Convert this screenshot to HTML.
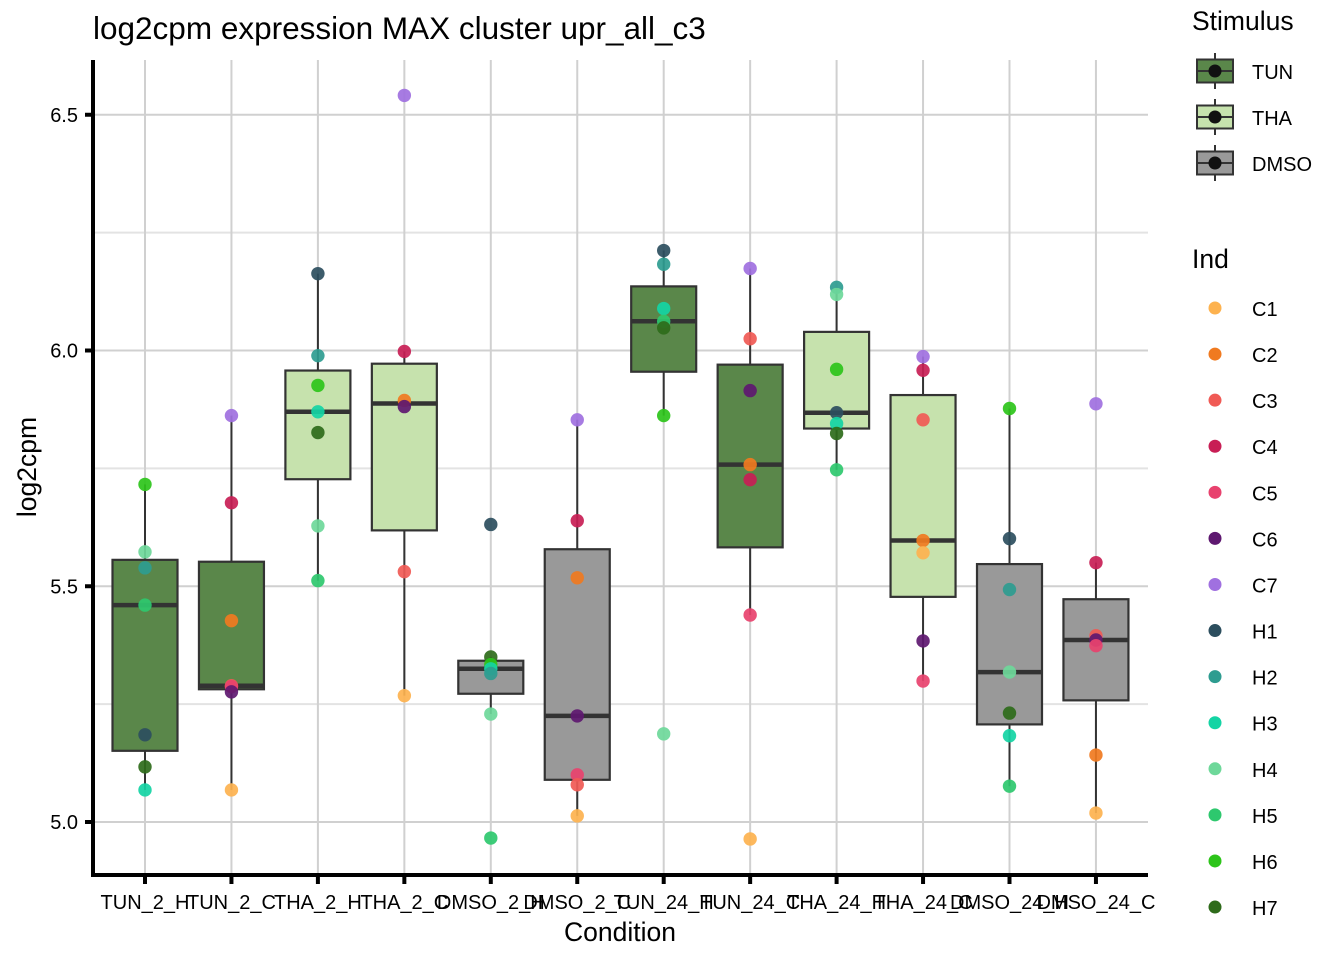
<!DOCTYPE html>
<html><head><meta charset="utf-8">
<style>
body{margin:0;background:#fff;}
svg{display:block;font-family:"Liberation Sans",Arial,sans-serif;}
</style></head>
<body>
<svg id="chart" width="1344" height="960" xmlns="http://www.w3.org/2000/svg">
<g id="grid"></g>
<g id="boxes"></g>
<g id="pts"></g>
<g id="axes"></g>
<g id="legend"></g>
<text x="93" y="39" font-size="31.5" fill="#000">log2cpm expression MAX cluster upr_all_c3</text>
<text x="620" y="941" font-size="26.5" text-anchor="middle" fill="#000">Condition</text>
<text transform="translate(36,467) rotate(-90)" font-size="26.5" text-anchor="middle" fill="#000">log2cpm</text>
</svg>
<script>
const categories=["TUN_2_H","TUN_2_C","THA_2_H","THA_2_C","DMSO_2_H","DMSO_2_C","TUN_24_H","TUN_24_C","THA_24_H","THA_24_C","DMSO_24_H","DMSO_24_C"];
const stimulusOf=["TUN","TUN","THA","THA","DMSO","DMSO","TUN","TUN","THA","THA","DMSO","DMSO"];
const indOf=[
 ["H6","H4","H2","H5","H1","H7","H3"],
 ["C7","C4","C2","C3","C5","C6","C1"],
 ["H1","H2","H6","H3","H7","H4","H5"],
 ["C7","C4","C2","C6","C3","C1"],
 ["H1","H7","H6","H3","H2","H4","H5"],
 ["C7","C4","C2","C6","C5","C3","C1"],
 ["H1","H2","H3","H5","H7","H6","H4"],
 ["C7","C3","C6","C2","C4","C5","C1"],
 ["H2","H4","H6","H1","H3","H7","H5"],
 ["C7","C4","C3","C2","C1","C6","C5"],
 ["H6","H1","H2","H4","H7","H3","H5"],
 ["C7","C4","C3","C6","C5","C2","C1"]];
const values=[
 [5.716,5.573,5.539,5.460,5.185,5.117,5.068],
 [5.862,5.677,5.427,5.289,5.287,5.276,5.068],
 [6.163,5.989,5.926,5.870,5.826,5.628,5.512],
 [6.541,5.998,5.894,5.881,5.531,5.268],
 [5.631,5.350,5.334,5.325,5.315,5.229,4.966],
 [5.853,5.639,5.518,5.225,5.100,5.079,5.013],
 [6.212,6.183,6.089,6.062,6.048,5.862,5.187],
 [6.174,6.025,5.915,5.758,5.726,5.439,4.964],
 [6.134,6.119,5.960,5.868,5.845,5.824,5.747],
 [5.987,5.958,5.853,5.597,5.571,5.384,5.299],
 [5.877,5.601,5.493,5.318,5.231,5.183,5.076],
 [5.887,5.550,5.395,5.386,5.374,5.142,5.019]];
const yTicks=[5.0,5.5,6.0,6.5];
const yMinor=[5.25,5.75,6.25];
const stimLevels=["TUN","THA","DMSO"];
const indLevels=["C1","C2","C3","C4","C5","C6","C7","H1","H2","H3","H4","H5","H6","H7"];
const stimColor={TUN:"#5A874A",THA:"#C6E2AD",DMSO:"#999999"};
const indColor={C1:"#FDB24F",C2:"#F07A20",C3:"#F05A55",C4:"#C81E55",C5:"#E8426E",C6:"#5E1870",C7:"#A070E0",H1:"#2C4E5E",H2:"#2E9C90",H3:"#14D4A4",H4:"#6ED89A",H5:"#2EC86E",H6:"#2DC41A",H7:"#2E6B1A"};

const L=93,R=1148,T=60,B=875;
const y=v=>822-(v-5.0)*471.5;
const x=i=>145+i*86.45;
const NS="http://www.w3.org/2000/svg";
function mk(tag,attrs,parent){const e=document.createElementNS(NS,tag);for(const k in attrs)e.setAttribute(k,attrs[k]);parent.appendChild(e);return e;}
const grid=document.getElementById('grid'),boxes=document.getElementById('boxes'),pts=document.getElementById('pts'),axes=document.getElementById('axes'),legend=document.getElementById('legend');

yMinor.forEach(v=>{const l=mk('line',{x1:L,x2:R,y1:y(v),y2:y(v),stroke:"#e3e3e3","stroke-width":2},grid);

});
yTicks.forEach(v=>{const l=mk('line',{x1:L,x2:R,y1:y(v),y2:y(v),stroke:"#d0d0d0","stroke-width":2},grid);

});
categories.forEach((c,i)=>{const l=mk('line',{x1:x(i),x2:x(i),y1:T,y2:B,stroke:"#d0d0d0","stroke-width":2},grid);

});

function q(s,p){const h=(s.length-1)*p,lo=Math.floor(h),hi=Math.ceil(h);return s[lo]+(s[hi]-s[lo])*(h-lo);}
const bw=65;
categories.forEach((c,i)=>{
 const s=values[i].slice().sort((a,b)=>a-b);
 const q1=q(s,.25),md=q(s,.5),q3=q(s,.75),iqr=q3-q1;
 const lo=Math.min(...s.filter(v=>v>=q1-1.5*iqr)),hi=Math.max(...s.filter(v=>v<=q3+1.5*iqr));
 const g=mk('g',{},boxes);
 
 
 mk('line',{x1:x(i),x2:x(i),y1:y(hi),y2:y(q3),stroke:"#333","stroke-width":2},g);
 mk('line',{x1:x(i),x2:x(i),y1:y(q1),y2:y(lo),stroke:"#333","stroke-width":2},g);
 mk('rect',{x:x(i)-bw/2,y:y(q3),width:bw,height:y(q1)-y(q3),fill:stimColor[stimulusOf[i]],stroke:"#333","stroke-width":2.2},g);
 mk('line',{x1:x(i)-bw/2,x2:x(i)+bw/2,y1:y(md),y2:y(md),stroke:"#333","stroke-width":4.5},g);
});
categories.forEach((c,i)=>{
 values[i].forEach((v,j)=>{
  const p=mk('circle',{cx:x(i),cy:y(v),r:6.7,fill:indColor[indOf[i][j]],"fill-opacity":0.92},pts);
  
  
 });
});
let a=mk('line',{x1:L,x2:L,y1:T,y2:B+2,stroke:"#000","stroke-width":4},axes);


a=mk('line',{x1:L-2,x2:R,y1:B,y2:B,stroke:"#000","stroke-width":4},axes);


yTicks.forEach(v=>{
 mk('line',{x1:L-8,x2:L,y1:y(v),y2:y(v),stroke:"#000","stroke-width":4},axes);
 const t=mk('text',{x:L-15,y:y(v)+7,"font-size":20,"text-anchor":"end",fill:"#000"},axes);
 t.textContent=v.toFixed(1);
 
 
});
categories.forEach((c,i)=>{
 mk('line',{x1:x(i),x2:x(i),y1:B,y2:B+9,stroke:"#000","stroke-width":4},axes);
 const t=mk('text',{x:x(i),y:909,"font-size":20,"text-anchor":"middle",fill:"#000"},axes);
 t.textContent=c;
 
 
});
let t=mk('text',{x:1192,y:30,"font-size":26.5,fill:"#000"},legend);
t.textContent="Stimulus";


stimLevels.forEach((s,k)=>{
 const cy=71+k*46;
 const g=mk('g',{},legend);
 
 
 mk('line',{x1:1215,x2:1215,y1:cy-18,y2:cy+18,stroke:"#333","stroke-width":2},g);
 mk('rect',{x:1197,y:cy-11.5,width:36,height:23,fill:stimColor[s],stroke:"#333","stroke-width":2},g);
 mk('line',{x1:1197,x2:1233,y1:cy,y2:cy,stroke:"#333","stroke-width":2},g);
 mk('circle',{cx:1215,cy:cy,r:6.5,fill:"#111"},g);
 const lt=mk('text',{x:1252,y:cy+8,"font-size":20,fill:"#000"},g);lt.textContent=s;
});
t=mk('text',{x:1192,y:268,"font-size":26.5,fill:"#000"},legend);
t.textContent="Ind";


indLevels.forEach((s,k)=>{
 const cy=308+k*46.08;
 const g=mk('g',{},legend);
 
 
 mk('circle',{cx:1215,cy:cy,r:6.5,fill:indColor[s]},g);
 const lt=mk('text',{x:1252,y:cy+8,"font-size":20,fill:"#000"},g);lt.textContent=s;
});
</script>
</body></html>
